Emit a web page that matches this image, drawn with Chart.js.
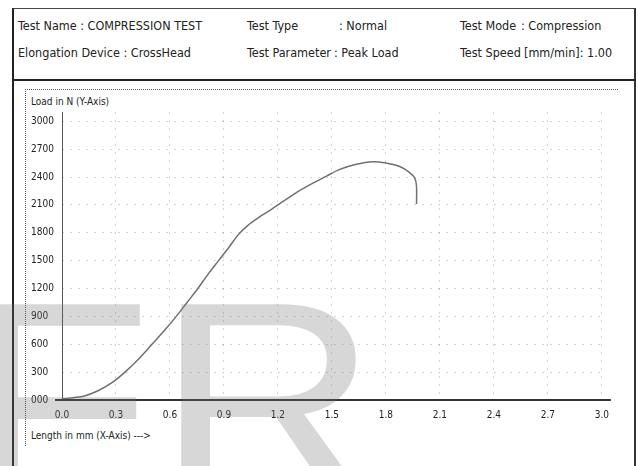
<!DOCTYPE html>
<html>
<head>
<meta charset="utf-8">
<title>Compression Test</title>
<script src="https://cdn.jsdelivr.net/npm/chart.js@4.4.1/dist/chart.umd.min.js"></script>
<style>
  html, body { margin: 0; padding: 0; background: #fff; }
  body {
    width: 638px; height: 466px; position: relative; overflow: hidden;
    font-family: "DejaVu Sans Condensed", "DejaVu Sans", sans-serif; color: #222;
  }
  .frame {
    position: absolute; left: 12px; top: 8px; width: 620px; height: 480px;
    border-left: 2px solid #222; border-right: 2px solid #333; border-top: 1px solid #444;
  }
  .head-rule { position: absolute; left: 12px; top: 79px; width: 624px; height: 2px; background: #222; }
  .hd { position: absolute; font-size: 12.5px; line-height: 14px; white-space: pre; }
  .box {
    position: absolute; left: 25px; top: 89px; width: 592px; height: 356px;
    border-top: 1px dotted #555; border-left: 1px dotted #555;
  }
  .lbl { position: absolute; font-size: 10px; line-height: 12px; white-space: pre; }
  #chartWrap { position: absolute; left: 26px; top: 90px; width: 592px; height: 360px; }
  .wm {
    position: absolute; font-family: "Liberation Sans", Arial, sans-serif;
    font-size: 280px; line-height: 280px; color: rgba(110, 110, 110, 0.28);
    transform: scaleX(1.1); transform-origin: 0 0; pointer-events: none;
  }
</style>
</head>
<body>
<div class="frame"></div>
<div class="head-rule"></div>

<div class="hd" style="left:18px; top:19px">Test Name : COMPRESSION TEST</div>
<div class="hd" style="left:247px; top:19px">Test Type</div>
<div class="hd" style="left:339px; top:19px">: Normal</div>
<div class="hd" style="left:460px; top:19px">Test Mode</div>
<div class="hd" style="left:521px; top:19px">: Compression</div>

<div class="hd" style="left:18px; top:46px">Elongation Device : CrossHead</div>
<div class="hd" style="left:247px; top:46px">Test Parameter</div>
<div class="hd" style="left:334px; top:46px">: Peak Load</div>
<div class="hd" style="left:460px; top:46px">Test Speed</div>
<div class="hd" style="left:524px; top:46px">[mm/min]: 1.00</div>

<div class="box"></div>
<div class="lbl" style="left:31px; top:96px">Load in N (Y-Axis)</div>
<div class="lbl" style="left:31px; top:430px">Length in mm (X-Axis) ---&gt;</div>

<div id="chartWrap"><canvas id="chart" width="592" height="360"></canvas></div>

<div class="wm" style="left:-36px; top:260px">F</div>
<div class="wm" style="left:156px; top:260px">R</div>

<script>
// load / elongation curve
const lengthMm = [0, 0.06, 0.12, 0.20, 0.28, 0.35, 0.43, 0.50, 0.57, 0.635, 0.695, 0.755, 0.81, 0.87, 0.93, 0.98, 1.03, 1.09, 1.17, 1.30, 1.40, 1.47, 1.54, 1.63, 1.73, 1.80, 1.88, 1.93, 1.96, 1.97, 1.97];
const loadN    = [10, 25, 40, 100, 190, 300, 450, 600, 750, 900, 1050, 1200, 1350, 1500, 1650, 1780, 1875, 1960, 2060, 2230, 2340, 2410, 2480, 2535, 2565, 2550, 2510, 2450, 2390, 2300, 2110];

// axis ticks
const xTicks      = [0, 0.3, 0.6, 0.9, 1.2, 1.5, 1.8, 2.1, 2.4, 2.7, 3.0];
const xTickLabels = ["0.0", "0.3", "0.6", "0.9", "1.2", "1.5", "1.8", "2.1", "2.4", "2.7", "3.0"];
const yTicks      = [0, 300, 600, 900, 1200, 1500, 1800, 2100, 2400, 2700, 3000];
const yTickLabels = ["000", "300", "600", "900", "1200", "1500", "1800", "2100", "2400", "2700", "3000"];

const gridColor = "rgba(0,0,0,0.17)";
const tickFont = { family: "DejaVu Sans Condensed, DejaVu Sans", size: 10 };

// solid axes through the origin, x axis a bit longer than the plot
const axisLines = {
  id: "axisLines",
  afterDatasetsDraw(chart) {
    const { ctx, chartArea, scales: { x, y } } = chart;
    const x0 = x.getPixelForValue(0), y0 = y.getPixelForValue(0);
    ctx.save();
    ctx.strokeStyle = "#555";
    ctx.lineWidth = 1;
    ctx.beginPath();
    ctx.moveTo(x0 + 0.5, chartArea.top);
    ctx.lineTo(x0 + 0.5, y0);
    ctx.stroke();
    ctx.strokeStyle = "#333";
    ctx.lineWidth = 2;
    ctx.beginPath();
    ctx.moveTo(x0 - 7, y0);
    ctx.lineTo(chartArea.right + 9, y0);
    ctx.stroke();
    ctx.restore();
  }
};

new Chart(document.getElementById("chart").getContext("2d"), {
  type: "line",
  data: {
    datasets: [{
      data: lengthMm.map((v, i) => ({ x: v, y: loadN[i] })),
      borderColor: "#707070",
      borderWidth: 1.5,
      pointRadius: 0,
      tension: 0.3,
      fill: false
    }]
  },
  options: {
    responsive: false,
    animation: false,
    layout: { padding: { top: 22, right: 15, bottom: 20, left: 5 } },
    plugins: { legend: { display: false }, tooltip: { enabled: false } },
    scales: {
      x: {
        type: "linear", min: 0, max: 3.0,
        afterBuildTicks: (s) => { s.ticks = xTicks.map(v => ({ value: v })); },
        afterFit: (s) => { s.height = 30; },
        ticks: { callback: (v, i) => xTickLabels[i], font: tickFont, color: "#222", padding: 9, maxRotation: 0, autoSkip: false },
        grid: { drawTicks: false, color: (c) => (c.tick && c.tick.value === 0 ? "transparent" : gridColor) },
        border: { display: false, dash: [2, 6] }
      },
      y: {
        type: "linear", min: 0, max: 3100,
        afterBuildTicks: (s) => { s.ticks = yTicks.map(v => ({ value: v })); },
        afterFit: (s) => { s.width = 31; },
        ticks: { callback: (v, i) => yTickLabels[i], font: tickFont, color: "#222", crossAlign: "far", autoSkip: false },
        grid: { drawTicks: false, color: (c) => (c.tick && c.tick.value === 0 ? "transparent" : gridColor) },
        border: { display: false, dash: [2, 6] }
      }
    }
  },
  plugins: [axisLines]
});
</script>
</body>
</html>
